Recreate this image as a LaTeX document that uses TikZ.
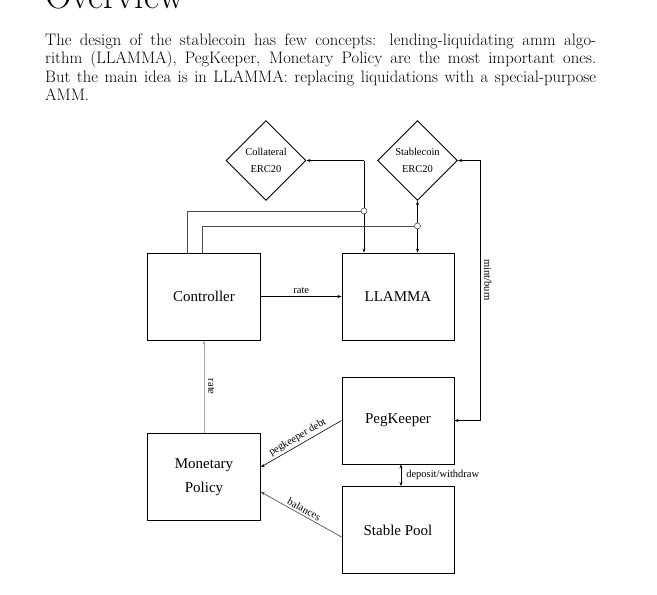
\documentclass[tikz,border=0pt]{standalone}
\usepackage{fontspec}
\newfontfamily\diag{Liberation Serif}
\usetikzlibrary{shapes.geometric,arrows.meta}
\begin{document}
\begin{tikzpicture}[x=1pt,y=-1pt,
  box/.style={draw, line width=0.9pt, minimum width=113pt, minimum height=87pt, inner sep=0pt, align=center, font=\diag\fontsize{15}{24}\selectfont},
  dia/.style={draw, diamond, aspect=1, minimum width=80pt, minimum height=80pt, inner sep=0pt, align=center, line width=0.9pt, font=\diag\fontsize{10.5}{17}\selectfont},
  lbl/.style={font=\diag\fontsize{10.5}{12}\selectfont, inner sep=2pt},
  tip/.tip={Stealth[length=4pt,width=3pt]},
  conn/.style={line width=0.6pt, -tip},
  dconn/.style={line width=0.6pt, tip-tip},
  gline/.style={line width=0.6pt, draw=black!70},
  junc/.style={circle, draw=black!80, fill=white, line width=0.5pt, inner sep=0pt, minimum size=6pt},
  bodytxt/.style={anchor=base west, inner sep=0pt, font=\fontsize{16.6}{18.6}\selectfont}
]
\useasboundingbox (0,0) rectangle (657,595);

% heading and text
\node[anchor=base west, inner sep=0pt, font=\fontsize{37}{40}\selectfont] (hd) at (45,8) {Overview};
\node[bodytxt] (t1) at (45,45) {\makebox[551pt][s]{The design of the stablecoin has few concepts: lending-liquidating amm algo-}};
\node[bodytxt] (t2) at (45,63.6) {\makebox[551pt][s]{rithm (LLAMMA), PegKeeper, Monetary Policy are the most important ones.}};
\node[bodytxt] (t3) at (45,82.2) {\makebox[551pt][s]{But the main idea is in LLAMMA: replacing liquidations with a special-purpose}};
\node[bodytxt] (t4) at (45,100.8) {AMM.};

% nodes
\node[box] (ctrl) at (204,296.5) {Controller};
\node[box, minimum width=112pt] (llamma) at (398,296.5) {LLAMMA};
\node[box, minimum width=112pt] (peg) at (398,420.5) {PegKeeper};
\node[box, minimum width=112pt] (pool) at (398,530) {Stable Pool};
\node[box] (mp) at (204,477) {Monetary\\Policy};
\node[dia] (col) at (266,160.5) {Collateral\\ERC20};
\node[dia] (stab) at (417.5,160.5) {Stablecoin\\ERC20};

\coordinate (c1) at (364,160.5);
\coordinate (j1) at (364,211);
\coordinate (j2) at (417.5,226);
\coordinate (mb) at (480,160.5);

% connectors
\draw[conn] (ctrl) -- node[lbl, above=1pt] {rate} (llamma);
\draw[conn, draw=black!35] (mp) -- node[lbl, midway, rotate=-90, anchor=south, yshift=2pt] {rate} (ctrl);
\draw[conn] (c1) -- (col.east);
\draw[conn] (c1) -- (c1 |- llamma.north);
\draw[dconn] (stab.south) -- (stab.south |- llamma.north);
\draw[gline] ([xshift=-17pt]ctrl.north) |- (j1);
\draw[gline] ([xshift=-2pt]ctrl.north) |- (j2);
\node[junc] at (j1) {};
\node[junc] at (j2) {};
\draw[dconn] (peg.east) -| node[lbl, pos=0.77, rotate=-90, anchor=south, yshift=2pt] {mint/burn} (mb) -- (stab.east);
\draw[conn] (peg.west) -- node[lbl, sloped, above] {pegkeeper debt} ([yshift=10pt]mp.east);
\draw[conn, draw=black!75] ([yshift=-7pt]pool.west) -- node[lbl, sloped, above] {balances} ([yshift=-15pt]mp.east);
\draw[dconn] ([xshift=3pt]peg.south) -- node[lbl, right=3pt] {deposit/withdraw} ([xshift=3pt]pool.north);
\end{tikzpicture}
\end{document}
